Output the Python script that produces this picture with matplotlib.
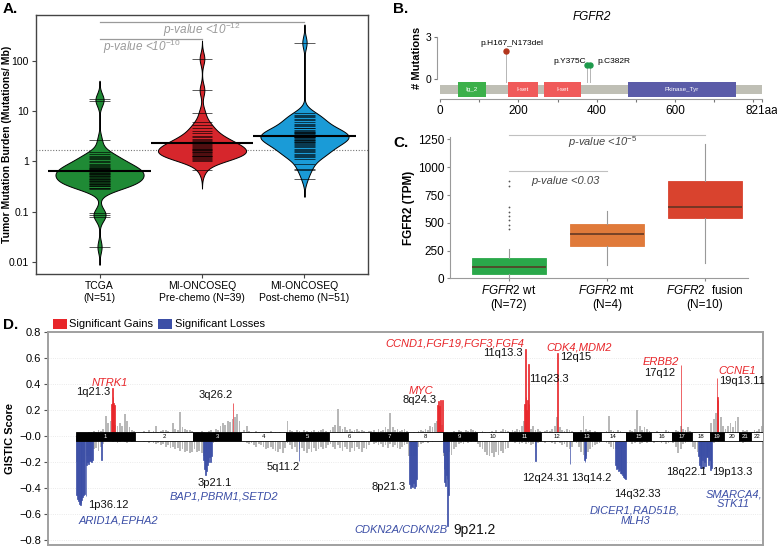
import numpy as np
import matplotlib
matplotlib.use("Agg")
import matplotlib.pyplot as plt
from matplotlib import mlab
from matplotlib.patches import Rectangle

plt.rcParams["font.family"] = ["Liberation Sans", "DejaVu Sans"]
plt.rcParams["mathtext.fontset"] = "custom"
plt.rcParams["mathtext.rm"] = "Liberation Sans"
plt.rcParams["mathtext.it"] = "Liberation Sans:italic"
plt.rcParams["mathtext.bf"] = "Liberation Sans:bold"

# ---------------- A. tumor mutation burden ----------------
tmb_groups = ["TCGA\n(N=51)", "MI-ONCOSEQ\nPre-chemo (N=39)", "MI-ONCOSEQ\nPost-chemo (N=51)"]
tmb_tcga = [17.5, 16.0, 2.6, 1.5, 1.4, 1.3, 1.2, 1.15, 1.1, 1.0,
            0.95, 0.9, 0.85, 0.8, 0.78, 0.75, 0.75, 0.72, 0.7, 0.68,
            0.66, 0.64, 0.62, 0.6, 0.58, 0.56, 0.55, 0.53, 0.52, 0.5,
            0.48, 0.47, 0.45, 0.44, 0.42, 0.41, 0.4, 0.38, 0.37, 0.36,
            0.35, 0.34, 0.33, 0.32, 0.3, 0.29, 0.28, 0.095, 0.085, 0.08, 0.02]
tmb_pre = [110, 26, 9.3, 6.0, 5.2, 4.5, 4.0, 3.6, 3.2, 3.0,
           2.8, 2.6, 2.5, 2.4, 2.3, 2.2, 2.1, 2.0, 1.9, 1.85,
           1.8, 1.75, 1.7, 1.65, 1.6, 1.55, 1.5, 1.45, 1.4, 1.35,
           1.3, 1.28, 1.25, 1.2, 1.15, 1.1, 1.05, 1.0, 0.66]
tmb_post = [230, 9.0, 8.5, 8.0, 7.5, 7.0, 6.5, 6.0, 5.5, 5.2,
            5.0, 4.7, 4.5, 4.2, 4.0, 3.9, 3.8, 3.7, 3.6, 3.5,
            3.4, 3.3, 3.2, 3.1, 3.05, 3.0, 2.9, 2.8, 2.7, 2.6,
            2.5, 2.45, 2.4, 2.3, 2.2, 2.1, 2.0, 1.9, 1.8, 1.7,
            1.6, 1.5, 1.4, 1.35, 1.3, 1.2, 1.1, 0.9, 0.72, 0.68, 0.45]
tmb_median = [0.64, 2.35, 3.2]
tmb_cutoff = 1.65
tmb_colors = ["#1f8a35", "#d6262c", "#1a9bd7"]
tmb_bw = [0.12, 0.12, 0.12]   # kde bandwidth in log10 units

# ---------------- B. FGFR2 lollipop ----------------
prot_len = 821
dom_names = ["Ig_2", "I-set", "I-set", "Pkinase_Tyr"]
dom_start = [46, 173, 265, 480]
dom_end = [117, 250, 360, 755]
dom_colors = ["#3cb04a", "#f05a5a", "#f05a5a", "#5b5ca8"]
mut_labels = ["p.H167_N173del", "p.Y375C", "p.C382R"]
mut_pos = [168, 375, 382]
mut_count = [2, 1, 1]
mut_colors = ["#b3361d", "#1e9a4c", "#1e9a4c"]

# ---------------- C. FGFR2 expression ----------------
fgfr2_groups = ["$FGFR2$ wt\n(N=72)", "$FGFR2$ mt\n(N=4)", "$FGFR2$  fusion\n(N=10)"]
fgfr2_q1 = [39, 287, 544]
fgfr2_med = [99, 403, 639]
fgfr2_q3 = [179, 493, 872]
fgfr2_lo = [0, 116, 140]
fgfr2_hi = [260, 603, 1210]
fgfr2_fliers = [[875, 830, 640, 600, 560, 525, 480, 445], [], []]
fgfr2_colors = ["#2aa84a", "#e07a3a", "#d9432e"]

# ---------------- D. GISTIC ----------------
chrom_len = [249.25, 243.2, 198.0, 191.15, 180.9, 171.1, 159.1, 146.4, 141.2, 135.5, 135.0,
             133.85, 115.2, 107.35, 102.5, 90.35, 81.2, 78.1, 59.1, 63.0, 48.1, 51.3]
gray_gain = [
    [0.01, 0.01, 0.02, 0.02, 0.02, 0.03, 0.03, 0.04, 0.03, 0.05, 0.04, 0.06, 0.16, 0.1, 0.12,
     0.1, 0.09, 0.08, 0.1, 0.08, 0.17, 0.12, 0.07, 0.05, 0.04],
    [0.02, 0.03, 0.02, 0.04, 0.03, 0.05, 0.03, 0.04, 0.08, 0.03, 0.04, 0.05, 0.05, 0.04, 0.03,
     0.1, 0.06, 0.05, 0.19, 0.07, 0.06, 0.05, 0.05, 0.04],
    [0.02, 0.03, 0.03, 0.04, 0.03, 0.02, 0.04, 0.05, 0.03, 0.06, 0.05, 0.08, 0.1, 0.09, 0.12,
     0.11, 0.13, 0.15, 0.17, 0.12],
    [0.03, 0.05, 0.08, 0.04, 0.03, 0.02, 0.04, 0.03, 0.02, 0.03, 0.02, 0.03, 0.04, 0.02, 0.03,
     0.02, 0.03, 0.02, 0.03],
    [0.12, 0.05, 0.04, 0.03, 0.05, 0.04, 0.03, 0.05, 0.04, 0.03, 0.04, 0.05, 0.03, 0.04, 0.05,
     0.06, 0.04, 0.03],
    [0.05, 0.07, 0.09, 0.21, 0.08, 0.06, 0.07, 0.05, 0.06, 0.04, 0.05, 0.06, 0.04, 0.05, 0.04,
     0.03, 0.04],
    [0.04, 0.05, 0.03, 0.06, 0.04, 0.05, 0.07, 0.06, 0.18, 0.07, 0.05, 0.06, 0.04, 0.05, 0.06, 0.04],
    [0.03, 0.02, 0.03, 0.02, 0.04, 0.05, 0.04, 0.06, 0.05, 0.08, 0.07, 0.1, 0.12, 0.1, 0.09],
    [0.02, 0.03, 0.02, 0.03, 0.04, 0.03, 0.05, 0.04, 0.03, 0.05, 0.04, 0.06, 0.05, 0.04],
    [0.03, 0.02, 0.04, 0.03, 0.02, 0.03, 0.04, 0.03, 0.05, 0.03, 0.04, 0.06, 0.05, 0.04],
    [0.03, 0.05, 0.04, 0.06, 0.05, 0.08, 0.12, 0.1, 0.07, 0.06, 0.08, 0.05, 0.06, 0.04],
    [0.03, 0.04, 0.05, 0.04, 0.06, 0.08, 0.15, 0.07, 0.05, 0.04, 0.06, 0.05, 0.04],
    [0.02, 0.02, 0.03, 0.05, 0.16, 0.06, 0.04, 0.05, 0.03, 0.04, 0.03, 0.02],
    [0.02, 0.03, 0.04, 0.16, 0.05, 0.04, 0.03, 0.05, 0.04, 0.03, 0.03],
    [0.03, 0.05, 0.04, 0.06, 0.2, 0.08, 0.05, 0.07, 0.06, 0.04],
    [0.02, 0.03, 0.04, 0.03, 0.02, 0.03, 0.05, 0.04, 0.03],
    [0.03, 0.05, 0.04, 0.08, 0.06, 0.05, 0.07, 0.04],
    [0.02, 0.03, 0.02, 0.03, 0.02, 0.03, 0.02, 0.02],
    [0.1, 0.13, 0.18, 0.12, 0.15, 0.08],
    [0.06, 0.08, 0.1, 0.07, 0.12, 0.15],
    [0.03, 0.05, 0.04, 0.05, 0.03],
    [0.03, 0.05, 0.04, 0.06, 0.08],
]
gray_loss = [
    [-0.2, -0.2, -0.2, -0.2, -0.15, -0.15, -0.15, -0.1, -0.09, -0.11, -0.08, -0.06, -0.03, -0.02,
     -0.03, -0.04, -0.03, -0.05, -0.04, -0.03, -0.04, -0.05, -0.03, -0.04, -0.03],
    [-0.02, -0.03, -0.02, -0.04, -0.03, -0.05, -0.04, -0.05, -0.06, -0.05, -0.07, -0.06, -0.08,
     -0.07, -0.09, -0.08, -0.1, -0.09, -0.11, -0.1, -0.12, -0.11, -0.13, -0.12],
    [-0.1, -0.12, -0.11, -0.13, -0.15, -0.12, -0.1, -0.08, -0.05, -0.04, -0.03, -0.03, -0.02,
     -0.03, -0.02, -0.03, -0.02, -0.02, -0.03, -0.02],
    [-0.03, -0.04, -0.05, -0.06, -0.05, -0.07, -0.08, -0.06, -0.07, -0.08, -0.1, -0.09, -0.08,
     -0.1, -0.11, -0.12, -0.1, -0.13, -0.09],
    [-0.05, -0.07, -0.1, -0.08, -0.12, -0.1, -0.09, -0.11, -0.13, -0.1, -0.12, -0.09, -0.11,
     -0.1, -0.08, -0.1, -0.09, -0.07],
    [-0.06, -0.08, -0.1, -0.07, -0.09, -0.11, -0.08, -0.1, -0.12, -0.09, -0.11, -0.08, -0.1,
     -0.12, -0.09, -0.1, -0.07],
    [-0.04, -0.06, -0.05, -0.07, -0.06, -0.08, -0.07, -0.09, -0.06, -0.08, -0.07, -0.09, -0.1,
     -0.08, -0.07, -0.06],
    [-0.15, -0.15, -0.15, -0.15, -0.08, -0.06, -0.05, -0.04, -0.05, -0.03, -0.04, -0.03, -0.02,
     -0.03, -0.02],
    [-0.15, -0.15, -0.12, -0.14, -0.1, -0.08, -0.06, -0.05, -0.06, -0.04, -0.05, -0.04, -0.03, -0.04],
    [-0.06, -0.08, -0.1, -0.12, -0.14, -0.15, -0.13, -0.16, -0.12, -0.14, -0.11, -0.13, -0.1, -0.09],
    [-0.03, -0.04, -0.05, -0.04, -0.06, -0.05, -0.04, -0.06, -0.05, -0.07, -0.06, -0.08, -0.05, -0.04],
    [-0.04, -0.05, -0.03, -0.04, -0.05, -0.06, -0.04, -0.05, -0.07, -0.06, -0.08, -0.1, -0.08],
    [-0.03, -0.05, -0.08, -0.12, -0.14, -0.15, -0.12, -0.1, -0.08, -0.07, -0.06, -0.05],
    [-0.03, -0.04, -0.05, -0.06, -0.08, -0.1, -0.1, -0.1, -0.1, -0.1, -0.1],
    [-0.03, -0.04, -0.06, -0.05, -0.04, -0.06, -0.05, -0.04, -0.05, -0.03],
    [-0.03, -0.05, -0.04, -0.03, -0.05, -0.04, -0.06, -0.05, -0.04],
    [-0.05, -0.08, -0.13, -0.1, -0.06, -0.05, -0.04, -0.03],
    [-0.08, -0.1, -0.12, -0.15, -0.15, -0.15, -0.15, -0.12],
    [-0.1, -0.05, -0.03, -0.04, -0.03, -0.02],
    [-0.02, -0.03, -0.02, -0.03, -0.02, -0.02],
    [-0.03, -0.05, -0.04, -0.03, -0.02],
    [-0.03, -0.02, -0.03, -0.02, -0.03],
]
# significant peaks: chromosome, start/end (Mb within chromosome), scores
gain_chrom = [1, 3, 8, 11, 12, 17, 19]
gain_start = [147, 165, 121, 63, 68, 36.5, 29]
gain_end = [162, 168, 146, 85, 70, 38.5, 34]
gain_vals = [[0.25, 0.26, 0.37, 0.3, 0.26, 0.24], [0.26],
             [0.24, 0.27, 0.23, 0.05, 0.28, 0.05, 0.28],
             [0.25, 0.67, 0.3, 0.2, 0.28, 0.56, 0.25], [0.64], [0.55], [0.45, 0.3, 0.28]]
loss_chrom = [1, 1, 1, 1, 3, 5, 8, 9, 11, 12, 13, 14, 18, 19]
loss_start = [0, 40, 43, 106, 41, 52, 3, 0, 111, 119, 45, 60, 27, 0]
loss_end = [38, 42, 70, 109, 77, 55, 37, 24, 114, 121, 54, 107, 77, 6]
loss_vals = [[-0.45, -0.48, -0.5, -0.52, -0.53, -0.51, -0.49, -0.47, -0.45, -0.44], [-0.46],
             [-0.22, -0.2, -0.21, -0.19, -0.2, -0.18], [-0.18],
             [-0.18, -0.25, -0.3, -0.27, -0.22, -0.2, -0.16, -0.2, -0.15], [-0.19],
             [-0.37, -0.4, -0.38, -0.39, -0.36, -0.4, -0.38, -0.33],
             [-0.12, -0.25, -0.35, -0.38, -0.3, -0.33, -0.69, -0.45], [-0.19], [-0.21],
             [-0.18, -0.2, -0.17],
             [-0.22, -0.25, -0.24, -0.27, -0.26, -0.28, -0.29, -0.28, -0.3, -0.31, -0.32, -0.33],
             [-0.15, -0.22, -0.24, -0.18, -0.245, -0.2, -0.23, -0.16, -0.22, -0.18],
             [-0.26, -0.22, -0.24]]

RED = "#e8262a"
BLUE = "#3b4ea6"
W, H = 777, 550
fig = plt.figure(figsize=(W / 100, H / 100), dpi=100)

# ============ panel A ============
ax = fig.add_axes([36 / W, 1 - 274 / H, 332 / W, 259 / H])
tmb_values = [tmb_tcga, tmb_pre, tmb_post]
for i, vals in enumerate(tmb_values):
    x = i + 1
    lv = np.log10(vals)
    bw = tmb_bw[i]
    kde = mlab.GaussianKDE(lv, bw_method=bw / np.std(lv, ddof=1))
    ys = np.linspace(lv.min() - 3 * bw, lv.max() + 3 * bw, 500)
    d = kde.evaluate(ys)
    d = d / d.max() * 0.43
    ax.fill_betweenx(ys, x - d, x + d, facecolor=tmb_colors[i], edgecolor="black", lw=0.7, zorder=2)
    ax.hlines(lv, x - 0.1, x + 0.1, color="black", lw=0.45, zorder=3)
    ax.hlines(np.log10(tmb_median[i]), x - 0.5, x + 0.5, color="black", lw=1.5, zorder=4)
ax.axhline(np.log10(tmb_cutoff), color="#777777", ls=(0, (1, 1.5)), lw=0.8, zorder=1)
ax.set_xlim(0.38, 3.62)
ax.set_ylim(-2.24, 2.91)
ax.set_yticks([-2, -1, 0, 1, 2])
ax.set_yticklabels(["0.01", "0.1", "1", "10", "100"], fontsize=7.5)
ax.set_xticks([1, 2, 3])
ax.set_xticklabels(tmb_groups, fontsize=7.5)
ax.tick_params(length=3, color="#444444", pad=2)
for s in ax.spines.values():
    s.set_color("#444444")
    s.set_linewidth(1)
ax.set_ylabel("Tumor Mutation Burden (Mutations/ Mb)", fontsize=7.5, fontweight="bold")
ax.yaxis.set_label_coords(-0.073, 0.5)
pcol = "#9a9a9a"
ax.plot([1, 3], [2.77, 2.77], color=pcol, lw=0.9, clip_on=False)
ax.plot([1, 2], [2.44, 2.44], color=pcol, lw=0.9, clip_on=False)
ax.text(2.0, 2.62, r"p-value <10$^{-12}$", color=pcol, fontsize=8.5, style="italic", ha="center", va="center")
ax.text(1.03, 2.27, r"p-value <10$^{-10}$", color=pcol, fontsize=8.5, style="italic", ha="left", va="center")
fig.text(3 / W, 1 - 9 / H, "A.", fontsize=11, fontweight="bold", va="center")

# ============ panel B ============
axb = fig.add_axes([430 / W, 1 - 99 / H, 332 / W, 69 / H])
axb.set_xlim(-25.5, prot_len + 1)
axb.set_ylim(-1.43, 3.5)
axb.add_patch(Rectangle((0, -1.07), prot_len, 0.64, color="#bfbfb5", lw=0, zorder=1))
for name, s0, s1, c in zip(dom_names, dom_start, dom_end, dom_colors):
    axb.add_patch(Rectangle((s0, -1.29), s1 - s0, 1.08, color=c, lw=0, zorder=2))
    axb.text((s0 + s1) / 2, -0.75, name, color="white", fontsize=4.5, ha="center", va="center", zorder=3)
for p, n, c in zip(mut_pos, mut_count, mut_colors):
    axb.plot([p, p], [-0.21, n], color="#b5b5b5", lw=0.7, zorder=1.5)
    axb.plot(p, n, "o", color=c, ms=3.6, mec=c, zorder=4)
axb.text(184, 2.5, mut_labels[0], fontsize=6, ha="center", va="center")
axb.text(330, 1.22, mut_labels[1], fontsize=6, ha="center", va="center")
axb.text(445, 1.22, mut_labels[2], fontsize=6, ha="center", va="center")
axb.spines["top"].set_visible(False)
axb.spines["right"].set_visible(False)
axb.spines["left"].set_position(("data", -7.6))
axb.spines["left"].set_bounds(0, 3)
axb.spines["bottom"].set_bounds(0, prot_len)
for s in ("left", "bottom"):
    axb.spines[s].set_color("#9a9a9a")
    axb.spines[s].set_linewidth(0.8)
axb.set_yticks([0, 3])
axb.set_yticklabels(["0", "3"], fontsize=7.5)
axb.set_xticks([0, 100, 200, 300, 400, 500, 600, 700, 800, prot_len])
axb.set_xticklabels(["0", "", "200", "", "400", "", "600", "", "", "821aa"], fontsize=8.5)
axb.tick_params(axis="both", length=2.5, color="#777777", pad=1.5)
axb.text(-0.04, 0.6, "# Mutations", transform=axb.transAxes, rotation=90, fontsize=8,
         fontweight="bold", ha="center", va="center")
axb.text(388, 4.43, "FGFR2", fontsize=8.5, style="italic", ha="center", va="center", clip_on=False)
fig.text(393 / W, 1 - 9 / H, "B.", fontsize=11, fontweight="bold", va="center")

# ============ panel C ============
axc = fig.add_axes([450 / W, 1 - 278.3 / H, 298 / W, 141.6 / H])
stats = []
for i in range(3):
    stats.append(dict(med=fgfr2_med[i], q1=fgfr2_q1[i], q3=fgfr2_q3[i],
                      whislo=fgfr2_lo[i], whishi=fgfr2_hi[i], fliers=fgfr2_fliers[i]))
bp = axc.bxp(stats, positions=[1, 2, 3], widths=0.75, patch_artist=True, showcaps=False,
             boxprops=dict(lw=0.6), medianprops=dict(color="#5a3322", lw=1.1),
             whiskerprops=dict(color="#999999", lw=0.8),
             flierprops=dict(marker="o", ms=1.3, mfc="#555555", mec="none"))
for patch, c in zip(bp["boxes"], fgfr2_colors):
    patch.set_facecolor(c)
    patch.set_edgecolor(c)
axc.set_xlim(0.4, 3.44)
axc.set_ylim(0, 1275)
axc.set_yticks([0, 250, 500, 750, 1000, 1250])
axc.set_yticklabels(["0", "250", "500", "750", "1000", "1250"], fontsize=8.5)
axc.set_xticks([1, 2, 3])
axc.set_xticklabels(fgfr2_groups, fontsize=8.5)
axc.spines["top"].set_visible(False)
axc.spines["right"].set_visible(False)
for s in ("left", "bottom"):
    axc.spines[s].set_color("#9a9a9a")
    axc.spines[s].set_linewidth(0.8)
axc.tick_params(length=2.5, color="#888888", pad=1.5)
axc.set_ylabel("FGFR2 (TPM)", fontsize=8.5, fontweight="bold")
axc.yaxis.set_label_coords(-0.118, 0.5)
lcol = "#c0c0c0"
axc.plot([1, 3], [1289, 1289], color=lcol, lw=0.8, clip_on=False)
axc.plot([1, 2], [965, 965], color=lcol, lw=0.8, clip_on=False)
axc.text(1.96, 1226, r"p-value <10$^{-5}$", color="#444444", fontsize=8, style="italic", ha="center", va="center")
axc.text(1.58, 875, "p-value <0.03", color="#444444", fontsize=8, style="italic", ha="center", va="center")
fig.text(393 / W, 1 - 143 / H, "C.", fontsize=11, fontweight="bold", va="center")

# ============ panel D ============
axd = fig.add_axes([48 / W, 1 - 545 / H, 715 / W, 212.7 / H])
chrom_start = np.concatenate([[0], np.cumsum(chrom_len)[:-1]])
for c in range(22):
    for prof in (gray_gain[c], gray_loss[c]):
        n = len(prof)
        step = chrom_len[c] / n
        pos = chrom_start[c] + (np.arange(n) + 0.5) * step
        axd.bar(pos, prof, width=step * 0.75, color="#b8b8b8", lw=0, zorder=2)
for chroms, st, en, vals, col in ((gain_chrom, gain_start, gain_end, gain_vals, RED),
                                  (loss_chrom, loss_start, loss_end, loss_vals, BLUE)):
    for ch, s0, s1, v in zip(chroms, st, en, vals):
        n = len(v)
        step = (s1 - s0) / n
        pos = chrom_start[ch - 1] + s0 + (np.arange(n) + 0.5) * step
        axd.bar(pos, v, width=step, color=col, edgecolor=col, lw=0.5, zorder=3)
band_cols = ["black" if c % 2 == 0 else "white" for c in range(22)]
axd.bar(chrom_start, 0.065, width=chrom_len, bottom=-0.034, align="edge", color=band_cols,
        edgecolor="black", lw=0.6, zorder=5)
for c in range(22):
    axd.text(chrom_start[c] + chrom_len[c] / 2, -0.002, str(c + 1), fontsize=4.3,
             color="white" if c % 2 == 0 else "black", ha="center", va="center", zorder=6)
axd.set_xlim(-117.4, sum(chrom_len))
axd.set_ylim(-0.836, 0.8)
yt = np.round(np.arange(-0.8, 0.81, 0.2), 1)
axd.set_yticks(yt)
axd.set_yticklabels([f"{v:.1f}".replace("-", "\u2212") for v in yt], fontsize=8)
axd.set_xticks([])
axd.grid(axis="y", color="#e4e4e4", ls=":", lw=0.6, zorder=0)
for s in axd.spines.values():
    s.set_color("#a0a0a0")
    s.set_linewidth(1.4)
axd.tick_params(axis="y", length=3, color="#555555", pad=2)
axd.set_ylabel("GISTIC Score", fontsize=8, fontweight="bold", labelpad=3)

gene_labels = [("NTRK1", 142.6, 0.41, RED), ("CCND1,FGF19,FGF3,FGF4", 1590, 0.715, RED),
               ("CDK4,MDM2", 2111, 0.68, RED), ("MYC", 1448, 0.35, RED),
               ("ERBB2", 2451, 0.57, RED), ("CCNE1", 2771, 0.505, RED),
               ("ARID1A,EPHA2", 177.5, -0.65, BLUE), ("BAP1,PBRM1,SETD2", 619, -0.465, BLUE),
               ("CDKN2A/CDKN2B", 1362.7, -0.72, BLUE), ("DICER1,RAD51B,\nMLH3", 2345, -0.612, BLUE),
               ("SMARCA4,\nSTK11", 2758, -0.485, BLUE)]
for t, x, y, c in gene_labels:
    axd.text(x, y, t, color=c, fontsize=8, style="italic", ha="center", va="center",
             linespacing=1.0, zorder=7)
band_labels = [("1q21.3", 142.5, 0.34, "right"), ("3q26.2", 658, 0.32, "right"),
               ("1p36.12", 50, -0.53, "left"), ("3p21.1", 581, -0.36, "center"),
               ("5q11.2", 871, -0.234, "center"), ("8p21.3", 1310, -0.388, "center"),
               ("8q24.3", 1442, 0.28, "center"), ("11q13.3", 1875, 0.64, "right"),
               ("11q23.3", 1900.6, 0.44, "left"), ("12q15", 2032, 0.61, "left"),
               ("12q24.31", 2067, -0.32, "right"), ("13q14.2", 2162, -0.32, "center"),
               ("14q32.33", 2356, -0.446, "center"), ("17q12", 2449, 0.485, "center"),
               ("19q13.11", 2697, 0.425, "left"), ("18q22.1", 2644, -0.277, "right"),
               ("19p13.3", 2665.5, -0.277, "left")]
for t, x, y, ha in band_labels:
    axd.text(x, y, t, color="#111111", fontsize=8, ha=ha, va="center", zorder=7)
axd.text(1580.7, -0.72, "9p21.2", color="#111111", fontsize=10, ha="left", va="center", zorder=7)

# legend squares above the frame
for x0, xt, c, t in ((0.007, 0.0294, RED, "Significant Gains"), (0.154, 0.1776, BLUE, "Significant Losses")):
    axd.add_patch(Rectangle((x0, 1.0155), 0.0196, 0.047, transform=axd.transAxes, color=c,
                            clip_on=False, lw=0))
    axd.text(xt, 1.039, t, transform=axd.transAxes, fontsize=8, va="center", ha="left")
fig.text(3 / W, 1 - 325 / H, "D.", fontsize=11, fontweight="bold", va="center")

fig.savefig("out.png", dpi=100)
